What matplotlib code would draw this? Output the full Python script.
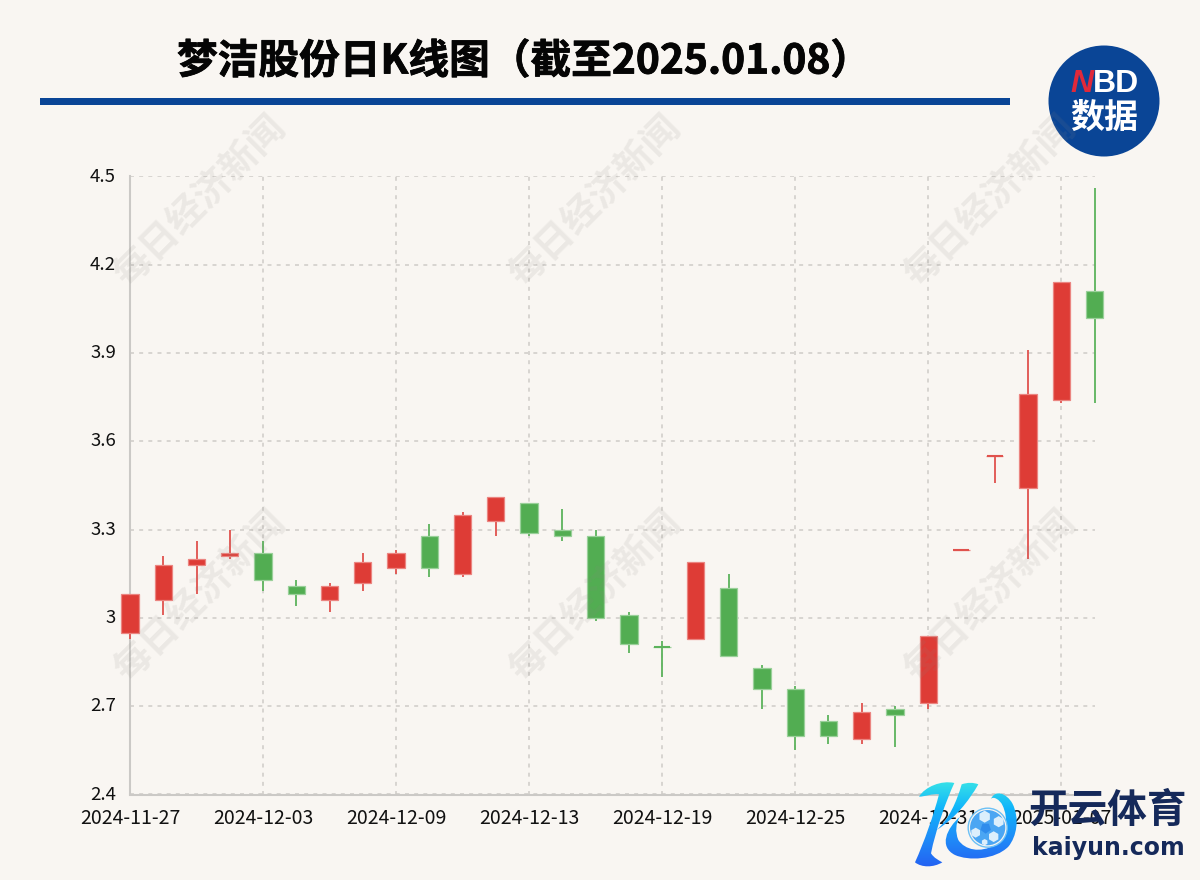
import numpy as np
import matplotlib
matplotlib.use("Agg")
import matplotlib.pyplot as plt
import matplotlib.patheffects as pe
from matplotlib.path import Path
from matplotlib.transforms import ScaledTranslation
from matplotlib.patches import PathPatch, Circle, Rectangle, RegularPolygon

CJK = ['Noto Sans CJK SC', 'DejaVu Sans']
plt.rcParams['font.family'] = CJK

dates = ['2024-11-27', '2024-11-28', '2024-11-29', '2024-12-02', '2024-12-03', '2024-12-04',
         '2024-12-05', '2024-12-06', '2024-12-09', '2024-12-10', '2024-12-11', '2024-12-12',
         '2024-12-13', '2024-12-16', '2024-12-17', '2024-12-18', '2024-12-19', '2024-12-20',
         '2024-12-23', '2024-12-24', '2024-12-25', '2024-12-26', '2024-12-27', '2024-12-30',
         '2024-12-31', '2025-01-02', '2025-01-03', '2025-01-06', '2025-01-07', '2025-01-08']
opens = [2.95, 3.06, 3.18, 3.21, 3.22, 3.11, 3.06, 3.12, 3.17, 3.28, 3.15, 3.33, 3.39, 3.30, 3.28,
         3.01, 2.90, 2.93, 3.10, 2.83, 2.76, 2.65, 2.59, 2.69, 2.71, 3.23, 3.55, 3.44, 3.74, 4.11]
closes = [3.08, 3.18, 3.20, 3.22, 3.13, 3.08, 3.11, 3.19, 3.22, 3.17, 3.35, 3.41, 3.29, 3.28, 3.00,
          2.91, 2.90, 3.19, 2.87, 2.76, 2.60, 2.60, 2.68, 2.67, 2.94, 3.23, 3.55, 3.76, 4.14, 4.02]
lows = [2.93, 3.01, 3.08, 3.20, 3.09, 3.04, 3.02, 3.09, 3.15, 3.14, 3.14, 3.28, 3.28, 3.26, 2.99,
        2.88, 2.80, 2.93, 2.87, 2.69, 2.55, 2.57, 2.57, 2.56, 2.69, 3.23, 3.46, 3.20, 3.73, 3.73]
highs = [3.08, 3.21, 3.26, 3.30, 3.26, 3.13, 3.12, 3.22, 3.23, 3.32, 3.36, 3.41, 3.39, 3.37, 3.30,
         3.02, 2.92, 3.19, 3.15, 2.84, 2.77, 2.67, 2.71, 2.70, 2.94, 3.23, 3.55, 3.91, 4.14, 4.46]
up_flags = [1, 1, 1, 1, 0, 0, 1, 1, 1, 0, 1, 1, 0, 0, 0, 0, 0, 1, 0, 0, 0, 0, 1, 0, 1, 1, 1, 1, 1, 0]
y_ticks = [2.4, 2.7, 3.0, 3.3, 3.6, 3.9, 4.2, 4.5]
y_labels = ['2.4', '2.7', '3', '3.3', '3.6', '3.9', '4.2', '4.5']
x_tick_step = 4

BG = '#f9f6f2'
RED, RED_E, RED_W = '#de3c36', '#eb8581', '#e0524d'
GRN, GRN_E, GRN_W = '#52ad52', '#9ad09a', '#5cb35c'
W, H = 1200, 880

fig = plt.figure(figsize=(W / 100, H / 100), dpi=100, facecolor=BG)
L, R, T, B = 130, 1094.5, 176.5, 794.5
ax = fig.add_axes([L / W, 1 - B / H, (R - L) / W, (B - T) / H], facecolor='none')
ax.set_xlim(0, len(dates) - 1)
ax.set_ylim(2.4, 4.5)

ax.set_axisbelow(True)
ax.grid(True, color='#cfccc8', lw=1.1, ls=(0, (2.6, 3.4)))
ax.set_xticks(range(0, len(dates), x_tick_step))
ax.set_xticklabels([dates[i] for i in range(0, len(dates), x_tick_step)])
ax.set_yticks(y_ticks)
ax.set_yticklabels(y_labels)
ax.tick_params(length=0, colors='#111111')
ax.tick_params(axis='x', pad=9.5, labelsize=14)
ax.tick_params(axis='y', pad=10, labelsize=13.4)
nudge = ScaledTranslation(0, 2 / 100, fig.dpi_scale_trans)
for lab in ax.get_yticklabels():
    lab.set_transform(lab.get_transform() + nudge)
for s in ['top', 'right']:
    ax.spines[s].set_visible(False)
for s in ['left', 'bottom']:
    ax.spines[s].set_color('#cbc9c6')
    ax.spines[s].set_linewidth(1.5)

for i in range(len(dates)):
    o, c, lo, hi = opens[i], closes[i], lows[i], highs[i]
    up = up_flags[i]
    face, edge, wick = (RED, RED_E, RED_W) if up else (GRN, GRN_E, GRN_W)
    ax.vlines(i, lo, hi, color=wick, lw=1.3, zorder=3, clip_on=False)
    bottom, top = min(o, c), max(o, c)
    ax.bar(i, top - bottom, bottom=bottom, width=0.52, color=face, edgecolor=edge,
           linewidth=0.9, zorder=4, clip_on=False)
    if top == bottom:
        ax.hlines(top, i - 0.24, i + 0.24, color=wick, lw=1.5, zorder=4, clip_on=False)

# overlay in pixel coordinates: header, watermark, logos
ov = fig.add_axes([0, 0, 1, 1], facecolor='none', zorder=5)
ov.set_xlim(0, W)
ov.set_ylim(H, 0)
ov.axis('off')

for cx in (200, 595, 990):
    for cy in (200, 595):
        ov.text(cx, cy, '每日经济新闻', fontsize=27, fontweight='bold', rotation=45,
                rotation_mode='anchor', ha='center', va='center', color='#8a8680', alpha=0.12)

ov.text(177, 62, '梦洁股份日K线图（截至2025.01.08）', fontsize=29.3, fontweight='bold',
        color='#050505', ha='left', va='center',
        path_effects=[pe.withStroke(linewidth=0.6, foreground='#050505')])
ov.add_patch(Rectangle((40, 98.5), 970, 6.5, color='#0a4596', lw=0))

ov.add_patch(Circle((1104, 101), 55.5, color='#0a4596', lw=0))
ov.text(1070, 84, 'N', fontsize=23, fontweight='bold', style='italic', color='#e0293a',
        family=['Liberation Sans'], ha='left', va='center')
ov.text(1093, 84, 'BD', fontsize=23, fontweight='bold', color='white',
        family=['Liberation Sans'], ha='left', va='center')
ov.text(1104, 117, '数据', fontsize=24.5, fontweight='bold', color='white', ha='center', va='center')


def zp(px, py):
    return 905 + px / 3, 775 + py / 3


def bez(start, *curves):
    verts, codes = [zp(*start)], [Path.MOVETO]
    for c in curves:
        verts += [zp(*p) for p in c]
        codes += [Path.CURVE4] * 3
    verts.append(verts[0])
    codes.append(Path.CLOSEPOLY)
    return Path(verts, codes)


shapes = [
    bez((42, 65), [(60, 35), (110, 15), (148, 24)], [(122, 80), (92, 165), (78, 235)],
        [(88, 250), (100, 255), (112, 262)], [(85, 278), (50, 278), (30, 262)],
        [(58, 200), (86, 120), (102, 58)], [(82, 55), (60, 65), (42, 65)]),
    bez((95, 165), [(132, 132), (155, 80), (170, 28)], [(188, 22), (205, 22), (220, 28)],
        [(190, 80), (150, 130), (95, 165)]),
    bez((165, 125), [(125, 160), (100, 215), (150, 240)], [(190, 258), (270, 255), (310, 215)],
        [(335, 185), (345, 130), (322, 85)], [(305, 55), (270, 42), (258, 72)],
        [(265, 62), (285, 75), (292, 90)], [(312, 130), (305, 185), (270, 210)],
        [(225, 235), (180, 225), (160, 195)], [(150, 170), (152, 145), (165, 125)]),
]
grad = np.linspace(0, 1, 256)[:, None]
cmap = matplotlib.colors.LinearSegmentedColormap.from_list('k', ['#3be6e6', '#10b4fb', '#1f8cf8', '#2460f2'])
x0, y0 = zp(20, 15)
x1, y1 = zp(345, 280)
for p in shapes:
    im = ov.imshow(grad, extent=(x0, x1, y1, y0), cmap=cmap, aspect='auto', zorder=6)
    patch = PathPatch(p, transform=ov.transData, fc='none', ec='none')
    ov.add_patch(patch)
    im.set_clip_path(patch)
ov.set_xlim(0, W)
ov.set_ylim(H, 0)

ball = zp(248, 158)
ov.add_patch(Circle(ball, 19.5, fc=BG, ec='#6cc0f5', lw=1.0, zorder=7))
ov.add_patch(Circle(ball, 17.6, fc='#4ba6f3', ec='none', zorder=7))
for dx, dy, r in [(-3, -11, 6), (11, -6, 5.6), (-12, 5, 5), (6, 9, 5.4), (-3, 14.5, 3.2)]:
    ov.add_patch(RegularPolygon((ball[0] + dx, ball[1] + dy), 6, radius=r, fc='#dcefFC', ec='none', zorder=8))
ov.add_patch(RegularPolygon((ball[0] - 2, ball[1] + 0.5), 5, radius=5.5, fc='#2f8cec', ec='none', zorder=8))

ov.text(1108, 810, '开云体育', fontsize=28.5, fontweight='bold', color='#15295a', ha='center', va='center', zorder=7)
ov.text(1108, 848, 'kaiyun.com', fontsize=17, fontweight='bold', color='#15295a', ha='center', va='center',
        family=['DejaVu Sans'], zorder=7)

fig.savefig('out.png', dpi=100, facecolor=BG)
